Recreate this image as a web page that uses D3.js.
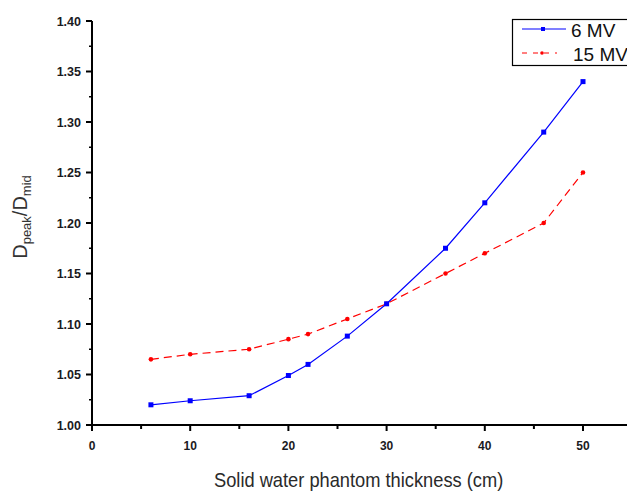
<!DOCTYPE html>
<html>
<head>
<meta charset="utf-8">
<script src="https://d3js.org/d3.v7.min.js"></script>
<style>
  body { margin: 0; background: #fff; }
  svg { display: block; }
</style>
</head>
<body>
<div id="chart"></div>
<script>
// thickness (cm)
const thickness = [6, 10, 16, 20, 22, 26, 30, 36, 40, 46, 50];
// Dpeak/Dmid ratios
const mv6  = [1.020, 1.024, 1.029, 1.049, 1.060, 1.088, 1.120, 1.175, 1.220, 1.290, 1.340];
const mv15 = [1.065, 1.070, 1.075, 1.085, 1.090, 1.105, 1.120, 1.150, 1.170, 1.200, 1.250];
const seriesNames = ["6 MV", "15 MV"];
const xTicks = [0, 10, 20, 30, 40, 50];
const yTicks = [1.00, 1.05, 1.10, 1.15, 1.20, 1.25, 1.30, 1.35, 1.40];

const width = 627, height = 493;
const x0 = 92, x50 = 583;   // pixel of x=0 and x=50
const yBottom = 425, yTop = 21;
const font = "Liberation Sans, Arial, sans-serif";

const svg = d3.select("#chart").append("svg")
    .attr("width", width)
    .attr("height", height);

const x = d3.scaleLinear().domain([0, 50]).range([x0, x50]);
const y = d3.scaleLinear().domain([1.0, 1.4]).range([yBottom, yTop]);

// x axis (runs off the right edge)
const xAxis = svg.append("g").attr("transform", `translate(0,${yBottom})`);
xAxis.append("line")
    .attr("x1", x0 - 1).attr("x2", width)
    .attr("stroke", "#000").attr("stroke-width", 2);
xAxis.selectAll("line.tick")
    .data(d3.range(0, 56, 5))
    .join("line")
    .attr("class", "tick")
    .attr("x1", d => x(d)).attr("x2", d => x(d))
    .attr("y1", 0).attr("y2", d => d % 10 === 0 ? 6 : 4)
    .attr("stroke", "#000").attr("stroke-width", 2);
xAxis.selectAll("text")
    .data(xTicks)
    .join("text")
    .attr("x", d => x(d))
    .attr("y", 25)
    .attr("text-anchor", "middle")
    .attr("font-family", font)
    .attr("font-weight", "bold")
    .attr("font-size", 12)
    .attr("fill", "#1a1a22")
    .text(d => d);

// y axis
const yAxis = svg.append("g").attr("transform", `translate(${x0},0)`);
yAxis.append("line")
    .attr("y1", yTop).attr("y2", yBottom + 1)
    .attr("stroke", "#000").attr("stroke-width", 2);
yAxis.selectAll("line.tick")
    .data(d3.range(0, 17).map(i => 1.0 + i * 0.025))
    .join("line")
    .attr("class", "tick")
    .attr("y1", d => y(d)).attr("y2", d => y(d))
    .attr("x1", (d, i) => i % 2 === 0 ? -6 : -3).attr("x2", 0)
    .attr("stroke", "#000").attr("stroke-width", (d, i) => i % 2 === 0 ? 2 : 1.5);
yAxis.selectAll("text")
    .data(yTicks)
    .join("text")
    .attr("x", -11)
    .attr("y", d => y(d) + 4.5)
    .attr("text-anchor", "end")
    .attr("font-family", font)
    .attr("font-weight", "bold")
    .attr("font-size", 12.5)
    .attr("fill", "#1a1a22")
    .text(d => d.toFixed(2));

// axis titles
svg.append("text")
    .attr("transform", "translate(214,487) scale(0.87,1)")
    .attr("font-family", font)
    .attr("font-size", 21)
    .attr("fill", "#2a2a2a")
    .text("Solid water phantom thickness (cm)");

const yTitle = svg.append("text")
    .attr("transform", "translate(27,217) rotate(-90)")
    .attr("text-anchor", "middle")
    .attr("font-family", font)
    .attr("font-size", 20)
    .attr("fill", "#333");
yTitle.append("tspan").text("D");
yTitle.append("tspan").attr("font-size", 13).attr("dy", 4).text("peak");
yTitle.append("tspan").attr("dy", -4).text("/D");
yTitle.append("tspan").attr("font-size", 13).attr("dy", 4).text("mid");

// series
const line = d3.line().x(d => x(d[0])).y(d => y(d[1]));
const data6 = thickness.map((t, i) => [t, mv6[i]]);
const data15 = thickness.map((t, i) => [t, mv15[i]]);

svg.append("path")
    .datum(data15)
    .attr("fill", "none")
    .attr("stroke", "#f00")
    .attr("stroke-width", 1.2)
    .attr("stroke-dasharray", "8,5")
    .attr("d", line);
svg.selectAll("circle.p15")
    .data(data15)
    .join("circle")
    .attr("class", "p15")
    .attr("cx", d => x(d[0])).attr("cy", d => y(d[1]))
    .attr("r", 2.3)
    .attr("fill", "#f00");

svg.append("path")
    .datum(data6)
    .attr("fill", "none")
    .attr("stroke", "#00f")
    .attr("stroke-width", 1.2)
    .attr("d", line);
svg.selectAll("rect.p6")
    .data(data6)
    .join("rect")
    .attr("class", "p6")
    .attr("x", d => x(d[0]) - 2.5).attr("y", d => y(d[1]) - 2.5)
    .attr("width", 5).attr("height", 5)
    .attr("fill", "#00f");

// legend
const legend = svg.append("g");
legend.append("rect")
    .attr("x", 512.5).attr("y", 19.5)
    .attr("width", 130).attr("height", 46)
    .attr("fill", "#fff")
    .attr("stroke", "#000").attr("stroke-width", 1.2);
legend.append("line")
    .attr("x1", 522).attr("x2", 566).attr("y1", 29).attr("y2", 29)
    .attr("stroke", "#00f").attr("stroke-width", 1.2);
legend.append("rect")
    .attr("x", 541).attr("y", 27).attr("width", 4).attr("height", 4)
    .attr("fill", "#00f");
legend.append("line")
    .attr("x1", 522).attr("x2", 557).attr("y1", 53).attr("y2", 53)
    .attr("stroke", "#f00").attr("stroke-width", 1.2)
    .attr("stroke-dasharray", "5,6");
legend.append("circle")
    .attr("cx", 542).attr("cy", 53).attr("r", 1.8)
    .attr("fill", "#f00");
legend.selectAll("text")
    .data(seriesNames)
    .join("text")
    .attr("x", (d, i) => i === 0 ? 571 : 573)
    .attr("y", (d, i) => i === 0 ? 37 : 61)
    .attr("font-family", font)
    .attr("font-size", 19)
    .attr("fill", "#111")
    .text(d => d);
</script>
</body>
</html>
